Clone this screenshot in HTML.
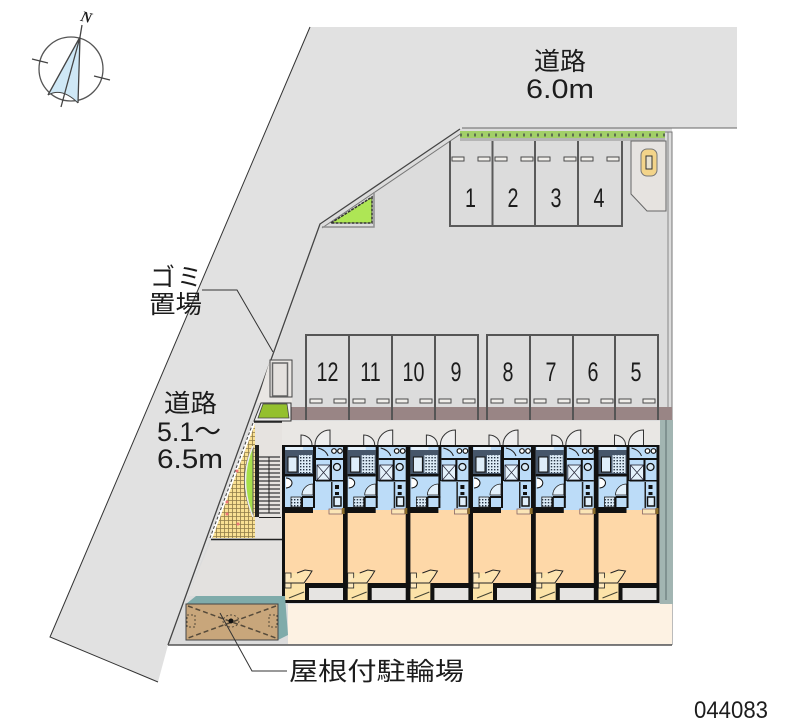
<!DOCTYPE html>
<html><head><meta charset="utf-8"><style>
html,body{margin:0;padding:0;background:#fff}
svg{display:block;filter:blur(.35px)}
text{font-family:"Liberation Sans","Noto Sans CJK JP",sans-serif;fill:#1c1c1c}
.j{font-size:25px}
.n{font-size:27px;text-anchor:middle}
</style></head><body>
<svg width="800" height="727" viewBox="0 0 800 727" xmlns="http://www.w3.org/2000/svg">
<defs>
<pattern id="tan" width="4" height="4" patternUnits="userSpaceOnUse"><rect width="4" height="4" fill="#f9e093"/><path d="M0 .5H4M.5 0V4" stroke="#8f7b48" stroke-width=".8"/></pattern>
<pattern id="dots" width="3" height="3" patternUnits="userSpaceOnUse"><rect width="3" height="3" fill="#dcebf7"/><rect width="1.400" height="1.400" fill="#223040"/></pattern>
<g id="unit">
<path d="M19 0V-10A11 10 0 0 1 30 0" fill="#eee" stroke="#333" stroke-width="1"/>
<path d="M48 0V-15A15 15 0 0 0 33 0" fill="#eee" stroke="#333" stroke-width="1"/>
<rect x="0" y="0" width="64" height="158" fill="#111"/>
<rect x="3" y="2" width="58" height="63" fill="#bcdcf8"/>
<rect x="3" y="65" width="58" height="73" fill="#fed8a8"/>
<rect x="0" y="62" width="31" height="6" fill="#111"/>
<!-- bath -->
<rect x="3" y="5" width="28" height="25" fill="#46566a"/>
<rect x="4" y="2" width="17" height="3" fill="#e6f2fb"/>
<rect x="6" y="12" width="9" height="15" fill="#dfeefa" stroke="#111" stroke-width="1"/>
<rect x="17" y="10" width="13" height="18" fill="url(#dots)"/>
<rect x="3" y="29" width="28" height="2.500" fill="#111"/>
<rect x="31" y="0" width="3" height="36" fill="#111"/>
<rect x="31" y="36" width="2" height="27" fill="#111"/>
<!-- blue room -->
<path d="M4 33A6 5 0 0 1 4 43" fill="#fff" stroke="#111" stroke-width="1"/>
<path d="M20 52H33M20 52V63" stroke="#111" stroke-width="2" fill="none"/>
<path d="M20 50A11 11 0 0 1 31 39V50Z" fill="#e2f0fb" stroke="#222" stroke-width=".8"/>
<rect x="9" y="52" width="10" height="10" fill="url(#dots)" stroke="#222" stroke-width=".8"/>
<!-- right wet -->
<path d="M36 3Q44 5 46 11" fill="none" stroke="#222" stroke-width="1"/>
<circle cx="52" cy="6" r="2.300" fill="#fff" stroke="#111" stroke-width="1.200"/>
<circle cx="58" cy="6" r="2.300" fill="#fff" stroke="#111" stroke-width="1.200"/>
<rect x="34" y="13" width="27" height="2" fill="#111"/>
<rect x="35" y="20" width="13" height="15" fill="#e4f1fb" stroke="#223" stroke-width=".8"/>
<path d="M35 20L48 35M48 20L35 35" stroke="#223" stroke-width=".7"/>
<rect x="48" y="15" width="2" height="21" fill="#111"/>
<circle cx="55" cy="22" r="3.500" fill="#d8e9f6" stroke="#111" stroke-width="1.300"/>
<rect x="34" y="35" width="27" height="1.500" fill="#111"/>
<rect x="49" y="37" width="1.500" height="26" fill="#222"/>
<rect x="53" y="40" width="4" height="4" fill="#111"/><rect x="53" y="47" width="4" height="3" fill="#111"/>
<rect x="52" y="52" width="7" height="9" fill="#dfeefa" stroke="#111" stroke-width="1.500"/>
<!-- counter by main room -->
<rect x="47" y="64" width="13" height="5" fill="#fbe5b6" stroke="#866" stroke-width=".8"/>
<rect x="60" y="63" width="3" height="6" fill="#8a6d2c"/>
<!-- closet + balcony -->
<path d="M3 128H25L23 138V155H3Z" fill="#fce3a9"/>
<rect x="3" y="128" width="6" height="15" fill="#fde9bf" stroke="#222" stroke-width=".8"/>
<path d="M15 128L23 125 30 126 27 131 22 138H3" fill="#fde4b0" stroke="#222" stroke-width="1"/>
<path d="M7 153L22 147" stroke="#443" stroke-width="1"/>
<rect x="23" y="138" width="41" height="20" fill="#111"/>
<rect x="27" y="143" width="34" height="12" fill="#e6e4e2"/>
</g>
<g id="dash"><rect x="0" y="-2" width="12" height="4" fill="#f0eeea" stroke="#4a4a4a" stroke-width="1"/></g>
</defs>

<rect width="800" height="727" fill="#fff"/>
<!-- road -->
<path d="M310 27H737V128H462L320 225 210 538 168 645 158 682 50 637Z" fill="#e1e1e1"/>
<!-- site -->
<path d="M462 128H672V645H168L210 538 320 225Z" fill="#dcdcdc"/>
<path d="M462 128H737" stroke="#666" stroke-width="1"/>
<path d="M460 132H672V645" fill="none" stroke="#777" stroke-width="1"/>
<path d="M668 132V407" stroke="#888" stroke-width="1"/>
<path d="M460 129L320 224 168 645" fill="none" stroke="#444" stroke-width="1.300"/>
<path d="M462 133L322 228" stroke="#777" stroke-width="1"/>
<path d="M310 27L50 637 158 682" fill="none" stroke="#333" stroke-width="1"/>

<!-- hedge -->
<rect x="460" y="131" width="205" height="8" fill="#a2cf68"/>
<path d="M460 135h205" stroke="#5d6e50" stroke-width="3" stroke-dasharray="2 5"/>
<rect x="460" y="138" width="205" height="3" fill="#b5b5b5"/>

<!-- top parking -->
<path d="M450 141V226H622V141M492.500 141V226M535 141V226M578 141V226" fill="none" stroke="#5a5a5a" stroke-width="2"/>
<use href="#dash" x="452" y="159"/><use href="#dash" x="478" y="159"/><use href="#dash" x="495" y="159"/><use href="#dash" x="521" y="159"/>
<use href="#dash" x="538" y="159"/><use href="#dash" x="564" y="159"/><use href="#dash" x="581" y="159"/><use href="#dash" x="607" y="159"/>
<text class="n" transform="translate(470.500 207) scale(.73 1)">1</text><text class="n" transform="translate(513 207) scale(.73 1)">2</text><text class="n" transform="translate(556 207) scale(.73 1)">3</text><text class="n" transform="translate(599 207) scale(.73 1)">4</text>
<!-- car pad -->
<path d="M631 141H666V211H647L631 194Z" fill="#e6e3e0" stroke="#666" stroke-width="1"/>
<rect x="641" y="149" width="16" height="27" rx="6" fill="#f3d48a" stroke="#777"/>
<rect x="646" y="156" width="6" height="13" fill="#e8e2cf" stroke="#333"/>

<!-- triangle green -->
<path d="M331 223L372 197V223Z" fill="#aee655" stroke="#333" stroke-width="1.500" stroke-dasharray="3 1"/>
<path d="M322 227H374V192" fill="none" stroke="#8f8f8f" stroke-width="1.500"/>

<!-- bottom parking -->
<rect x="282" y="407" width="390" height="13" fill="#998585"/>
<path d="M306 420V335H478V420M349 335V420M392 335V420M435 335V420M487 420V335H658V420M530 335V420M573 335V420M615 335V420" fill="none" stroke="#555" stroke-width="2"/>
<use href="#dash" x="310" y="401"/><use href="#dash" x="334" y="401"/><use href="#dash" x="353" y="401"/><use href="#dash" x="377" y="401"/>
<use href="#dash" x="396" y="401"/><use href="#dash" x="420" y="401"/><use href="#dash" x="439" y="401"/><use href="#dash" x="463" y="401"/>
<use href="#dash" x="491" y="401"/><use href="#dash" x="515" y="401"/><use href="#dash" x="534" y="401"/><use href="#dash" x="558" y="401"/>
<use href="#dash" x="577" y="401"/><use href="#dash" x="601" y="401"/><use href="#dash" x="619" y="401"/><use href="#dash" x="643" y="401"/>
<text class="n" transform="translate(327.500 381) scale(.73 1)">12</text><text class="n" transform="translate(370.500 381) scale(.73 1)">11</text><text class="n" transform="translate(413.500 381) scale(.73 1)">10</text><text class="n" transform="translate(456 381) scale(.73 1)">9</text>
<text class="n" transform="translate(508 381) scale(.73 1)">8</text><text class="n" transform="translate(551 381) scale(.73 1)">7</text><text class="n" transform="translate(593 381) scale(.73 1)">6</text><text class="n" transform="translate(636 381) scale(.73 1)">5</text>

<!-- building surroundings -->
<rect x="282" y="421" width="378" height="24" fill="#e9e7e4"/>
<rect x="660" y="420" width="13" height="184" fill="#a2b5b2"/>
<path d="M666 420V600" stroke="#5f6f70" stroke-width="1"/>
<path d="M211 541H282V596H188Z" fill="#e3e1df"/>
<rect x="288" y="604" width="384" height="40" fill="#fdf2e3"/>

<!-- trash -->
<path d="M270 360H292V403H257Z" fill="#e9e6e3"/>
<rect x="270" y="360" width="22" height="37" fill="none" stroke="#444" stroke-width="1"/>
<rect x="272.500" y="363" width="15" height="33" fill="#e4e1de" stroke="#666" stroke-width="1.500"/>
<path d="M254 421L261 403H291V421Z" fill="#eee" stroke="#333"/>
<path d="M258 418L263 404H287L289 418Z" fill="#94c02e" stroke="#444" stroke-width=".8"/>

<!-- tan paving -->
<path d="M254 423L211 538H255V423Z" fill="url(#tan)"/>
<path d="M254 423L211 538" stroke="#fff" stroke-width="2.500"/>
<path d="M253 423L210 538" stroke="#444" stroke-width="1" stroke-dasharray="3 2"/>
<circle cx="237" cy="471" r="1.500" fill="#e77"/><circle cx="227" cy="502" r="1.500" fill="#e77"/><circle cx="238" cy="524" r="1.500" fill="#e77"/><circle cx="227" cy="514" r="1.500" fill="#e77"/>
<path d="M253 446Q236 480 253 517V446Z" fill="#a6e04a" stroke="#555" stroke-width="1"/>
<path d="M253 446Q238 480 253 517" fill="none" stroke="#eee" stroke-width="1.500"/>

<!-- stairs block -->
<rect x="255" y="423" width="27" height="116" fill="#e6e3e0"/>
<path d="M254 422H282M211 539.500H282" stroke="#222" stroke-width="1.500"/>
<rect x="255" y="445" width="4" height="72" fill="#222"/>
<g stroke="#555" stroke-width="1.500">
<path d="M259 457H280M259 461H280M259 465H280M259 469H280M259 473H280M259 477H280M259 481H280M259 485H280M259 489H280M259 493H280M259 497H280M259 501H280M259 505H280M259 509H280M259 513H280"/>
</g>
<rect x="259" y="517" width="22" height="1" fill="#222"/>
<path d="M269 457V513" stroke="#222" stroke-width="1"/>

<!-- units -->
<use href="#unit" x="282" y="445"/>
<use href="#unit" x="344.700" y="445"/>
<use href="#unit" x="407.400" y="445"/>
<use href="#unit" x="470" y="445"/>
<use href="#unit" x="532.800" y="445"/>
<use href="#unit" x="595.500" y="445"/>

<!-- bicycle -->
<path d="M186 604L196 596H285L288 635 278 640Z" fill="#7fabaa"/>
<rect x="186" y="604" width="92" height="36" fill="#c8a67b" stroke="#444" stroke-width="1"/>
<path d="M188 606L276 638M276 606L188 638" stroke="#554a3a" stroke-width="1.500" stroke-dasharray="5 3"/>
<ellipse cx="231" cy="621" rx="8" ry="6" fill="none" stroke="#554a3a" stroke-dasharray="2 2"/>
<circle cx="231" cy="621" r="2.500" fill="#111"/>
<rect x="187" y="615" width="8" height="12" fill="none" stroke="#554a3a" stroke-dasharray="2 2"/>
<rect x="269" y="615" width="8" height="12" fill="none" stroke="#554a3a" stroke-dasharray="2 2"/>
<path d="M168 645H672" stroke="#555" stroke-width="1.500"/>

<!-- leaders -->
<path d="M202 290H237L273 352" fill="none" stroke="#333" stroke-width="1"/>
<path d="M220 613L252 671H287" fill="none" stroke="#333" stroke-width="1"/>

<!-- labels -->
<text class="j" x="534" y="70" textLength="52" lengthAdjust="spacingAndGlyphs">道路</text>
<text x="526" y="98" font-size="27" textLength="68" lengthAdjust="spacingAndGlyphs">6.0m</text>
<text class="j" x="150" y="286" textLength="52" lengthAdjust="spacing">ゴミ</text>
<text class="j" x="149" y="313" textLength="53" lengthAdjust="spacingAndGlyphs">置場</text>
<text class="j" x="164" y="412" textLength="53" lengthAdjust="spacingAndGlyphs">道路</text>
<text x="157" y="441" font-size="27" textLength="64" lengthAdjust="spacingAndGlyphs">5.1～</text>
<text x="157" y="468" font-size="27" textLength="66" lengthAdjust="spacingAndGlyphs">6.5m</text>
<text class="j" x="289" y="680" textLength="175" lengthAdjust="spacingAndGlyphs">屋根付駐輪場</text>
<text x="694" y="718" font-size="24" textLength="74" lengthAdjust="spacingAndGlyphs">044083</text>

<!-- compass -->
<circle cx="71" cy="69" r="32" fill="none" stroke="#555" stroke-width="1.300"/>
<path d="M80 37L48 95Q62 87 78 103Z" fill="#cfe8f6"/>
<path d="M82 25L80 37 48 95M80 37L78 103M80 37L61 107" fill="none" stroke="#444" stroke-width="1.300"/>
<path d="M48 95Q62 87 78 103" fill="none" stroke="#444" stroke-width="1"/>
<path d="M32 59L48 63M94 76L110 80" stroke="#444" stroke-width="1.200"/>
<text x="81" y="22" font-size="15" font-weight="bold" font-style="italic" style="font-family:'Liberation Serif',serif" transform="rotate(15 86 17)">N</text>
</svg>
</body></html>
